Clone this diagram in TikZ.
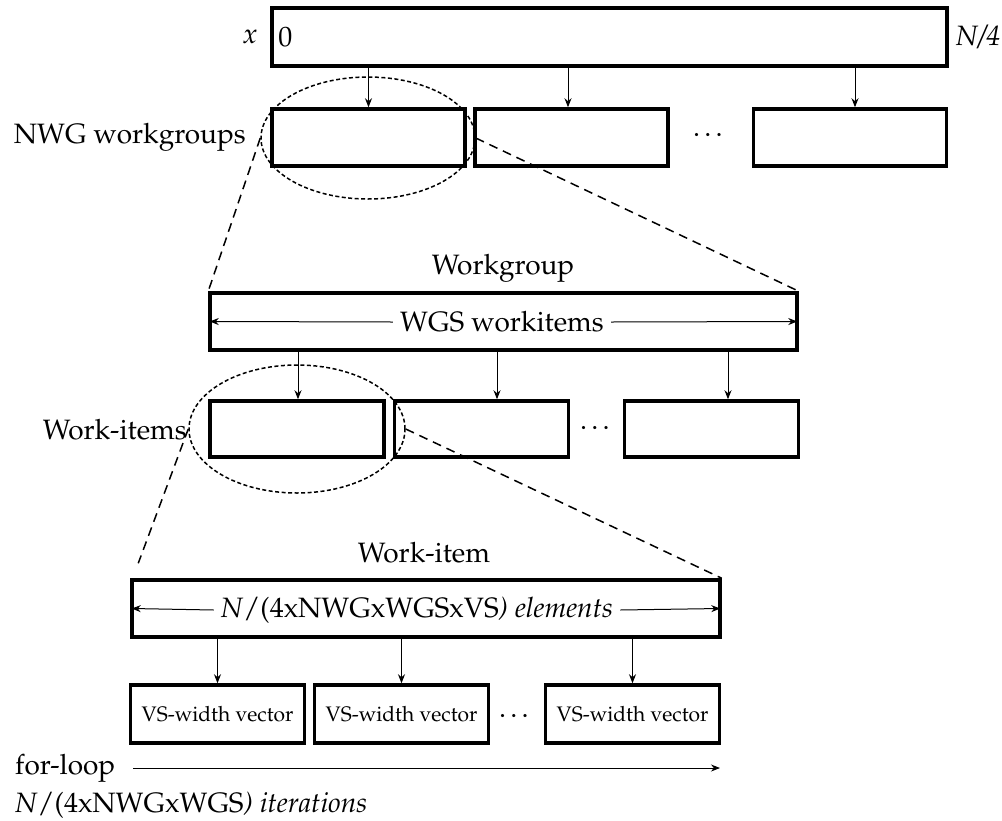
\documentclass[tikz,border=0pt]{standalone}
\usepackage[T1]{fontenc}
\usepackage{mathpazo}
\usetikzlibrary{arrows.meta,shapes.geometric}
\tikzset{
  blk/.style={draw, line width=3.5pt, inner sep=0pt},
  lbl/.style={font=\fontsize{28}{32}\selectfont, inner sep=2pt},
  vlbl/.style={font=\fontsize{21}{24}\selectfont},
  gap/.style={inner sep=7pt},
  arr/.style={-{Stealth[length=9pt,width=7pt]}, line width=1pt},
  zoomline/.style={dash pattern=on 9pt off 6pt, line width=1.5pt},
  lens/.style={draw, ellipse, dash pattern=on 4pt off 2.5pt, line width=1.5pt, inner sep=0pt}
}

\begin{document}
\begin{tikzpicture}[x=1pt, y=-1pt] % {{{
\useasboundingbox (0,0) rectangle (1002,820);
% Input array x {{{
\node[blk, minimum width=675pt, minimum height=58pt] (xarr) at (609.5,37) {};
\node[lbl, anchor=east, xshift=-11pt] (xname) at (xarr.west) {\textit{x}};
\node[lbl, anchor=west, xshift=6pt] (xlo) at (xarr.west) {0};
\node[lbl, anchor=west, xshift=5pt] (xhi) at (xarr.east) {\textit{N/4}};
% }}}
% Workgroups {{{
\node[lbl, anchor=east] (wglbl) at (248,137) {NWG workgroups};
    \foreach \i/\cx/\dx in {1/368.5/0,2/571.5/-3.5,3/850/5} {
      \node[blk, minimum width=193pt, minimum height=57pt] (wg\i) at (\cx,137.5) {};
      \draw[arr] ([xshift=\dx pt]wg\i.north |- xarr.south) -- ([xshift=\dx pt]wg\i.north);
    }
\node[lbl] (wgdots) at (710,135) {\dots};
\node[lens, minimum width=214pt, minimum height=122pt] (lens1) at (368,138) {};
% }}}
% One workgroup {{{
\node[blk, minimum width=587pt, minimum height=57pt] (wgbox) at (503.5,321.5) {};
\node[lbl] (wgtitle) at (503,268) {Workgroup};
\node[lbl, gap] (wgsn) at (502,322) {WGS workitems};
\draw[arr] (wgsn.west) -- ([xshift=1.5pt]wgbox.west);
\draw[arr] (wgsn.east) -- ([xshift=-1.5pt]wgbox.east);
\draw[zoomline] (lens1.west) -- (wgbox.north west);
\draw[zoomline] (lens1.east) -- (wgbox.north east);
% }}}
% Work-items {{{
\node[lbl, anchor=east] (wilbl) at (189,430) {Work-items};
    \foreach \i/\cx/\dx in {1/297/1,2/481.5/15.5,3/711.5/16.5} {
      \node[blk, minimum width=174pt, minimum height=56pt] (wi\i) at (\cx,429) {};
      \draw[arr] ([xshift=\dx pt]wi\i.north |- wgbox.south) -- ([xshift=\dx pt]wi\i.north);
    }
\node[lbl] (widots) at (597,428) {\dots};
\node[lens, minimum width=216pt, minimum height=128pt] (lens2) at (297,429) {};
% }}}
% One work-item {{{
\node[blk, minimum width=588pt, minimum height=57pt] (wibox) at (426,608.5) {};
\node[lbl] (wititle) at (424,553) {Work-item};
\node[lbl, gap] (wiel) at (417,610) {\textit{N}/(4xNWGxWGSxVS\textit{) elements}};
\draw[arr] (wiel.west) -- ([xshift=1.5pt]wibox.west);
\draw[arr] (wiel.east) -- ([xshift=-1.5pt]wibox.east);
\draw[zoomline] (lens2.west) -- ([shift={(8pt,15pt)}]wibox.north west);
\draw[zoomline] (lens2.east) -- (wibox.north east);
% }}}
% Vectors {{{
    \foreach \i/\cx in {1/217.5,2/401.5,3/632.5} {
      \node[blk, vlbl, minimum width=174pt, minimum height=58pt] (vec\i) at (\cx,714) {VS-width vector};
      \draw[arr] (vec\i.north |- wibox.south) -- (vec\i.north);
    }
\node[lbl] (vecdots) at (516,716) {\dots};
% }}}
% for-loop {{{
\node[lbl, anchor=west] (forlbl) at (13,768) {for-loop};
\coordinate (loopend) at (720,768);
\draw[arr] ([xshift=16pt]forlbl.east) -- (loopend);
\node[lbl, anchor=west] (iters) at (13,805) {\textit{N}/(4xNWGxWGS\textit{) iterations}};
% }}}
\end{tikzpicture} % }}}
\end{document}
